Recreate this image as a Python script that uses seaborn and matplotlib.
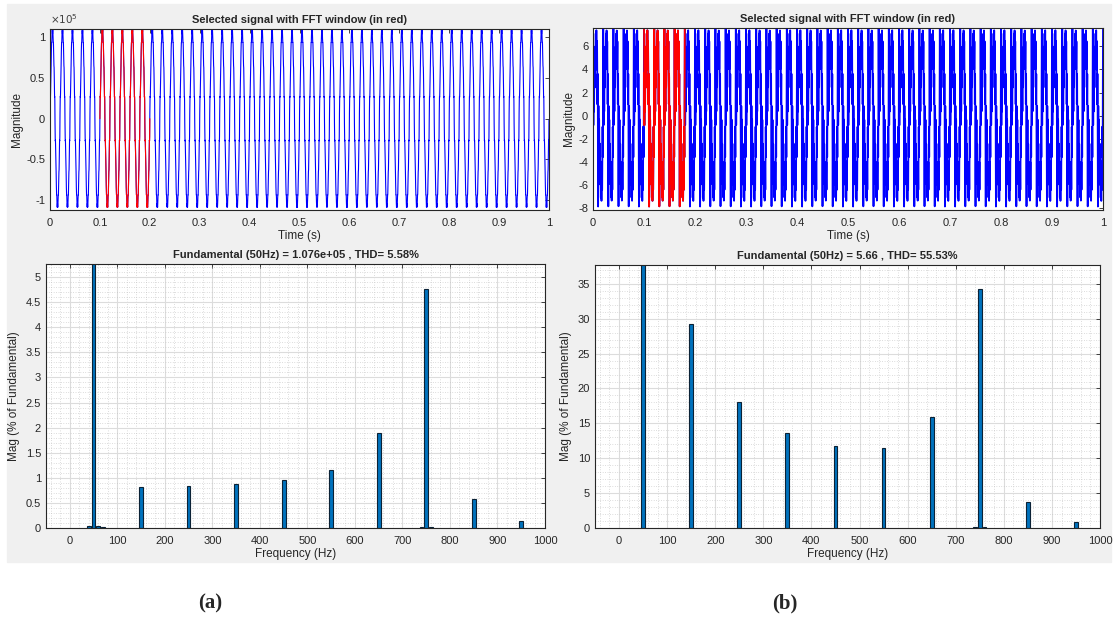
import numpy as np
import pandas as pd
import matplotlib
matplotlib.use("Agg")
import matplotlib.pyplot as plt
import seaborn as sns
from matplotlib.ticker import MultipleLocator

# harmonic spectra (% of fundamental)
freq_a = [40, 50, 60, 70, 150, 250, 350, 450, 550, 650, 740, 750, 760, 850, 950]
mag_a = [0.04, 100, 0.04, 0.02, 0.81, 0.83, 0.88, 0.96, 1.16, 1.90, 0.02, 4.76, 0.02, 0.58, 0.14]
freq_b = [50, 150, 250, 350, 450, 550, 650, 740, 750, 760, 850, 950]
mag_b = [100, 29.3, 18.1, 13.6, 11.7, 11.5, 15.9, 0.15, 34.3, 0.1, 3.7, 0.9]

fund_a = 1.076e5
fund_b = 5.66
thd_a = 5.58
thd_b = 55.53
window_a = (0.1, 0.2)
window_b = (0.1, 0.18)

sns.set_style("white")
plt.rcParams['font.family'] = ['Liberation Sans', 'DejaVu Sans']
plt.rcParams['axes.unicode_minus'] = False

fig = plt.figure(figsize=(11.15, 6.19), dpi=100)
fig.patch.set_facecolor('white')
# grey MATLAB figure background
fig.add_artist(plt.Rectangle((7 / 1115, 1 - 562 / 619), 1104 / 1115, 558 / 619,
                             transform=fig.transFigure, color='#f0f0f0', zorder=-10))


def px(l, t, r, b):
    return [l / 1115, 1 - b / 619, (r - l) / 1115, (b - t) / 619]


def style_axes(ax):
    ax.set_facecolor('white')
    for s in ax.spines.values():
        s.set_color('#262626')
        s.set_linewidth(0.8)
    ax.tick_params(direction='in', top=True, right=True, labelsize=8,
                   colors='#262626', length=3, width=0.6)
    ax.tick_params(axis='x', pad=6)


def signal(freqs, mags, fund, t, harm_cos):
    # rebuild the time signal from the spectrum
    y = np.zeros_like(t)
    for f, m in zip(freqs, mags):
        w = 2 * np.pi * f * t
        y += fund * m / 100 * (np.cos(w) if (harm_cos and f != 50) else np.sin(w))
    return y


t = np.arange(0, 1.0, 2e-5)


def top_panel(rect, freqs, mags, fund, window, ylim, yticks, scale, harm_cos, lw):
    ax = fig.add_axes(rect)
    y = signal(freqs, mags, fund, t, harm_cos) / scale
    df = pd.DataFrame({'t': t, 'y': y})
    inside = (df.t >= window[0]) & (df.t <= window[1])
    sns.lineplot(data=df, x='t', y='y', color='#0000ff', lw=lw, estimator=None, sort=False, ax=ax)
    sns.lineplot(data=df[inside], x='t', y='y', color='#ff0000', lw=lw, estimator=None, sort=False, ax=ax)
    ax.set_xlim(0, 1)
    ax.set_ylim(*ylim)
    ax.set_xticks(np.arange(0, 1.01, 0.1))
    ax.set_xticklabels(['0'] + [f'{v:.1f}' for v in np.arange(0.1, 0.95, 0.1)] + ['1'])
    ax.set_yticks(yticks)
    ax.set_yticklabels([f'{v:g}' for v in yticks])
    if scale != 1:
        ax.text(0, 1.015, r'$\times 10^{5}$', transform=ax.transAxes, fontsize=7.5,
                color='#404040', ha='left', va='bottom')
    ax.set_title('Selected signal with FFT window (in red)', fontsize=8, fontweight='bold',
                 color='#262626', pad=4)
    ax.set_xlabel('Time (s)', fontsize=8.5, color='#262626', labelpad=1)
    ax.set_ylabel('Magnitude', fontsize=8.5, color='#262626', labelpad=2)
    style_axes(ax)
    return ax


def bottom_panel(rect, freqs, mags, fund_txt, thd, ylim, ystep, yminor):
    ax = fig.add_axes(rect)
    sns.barplot(x=freqs, y=mags, native_scale=True, width=0.8, color='#0072bd',
                saturation=1, edgecolor='#0b2236', linewidth=0.8, ax=ax)
    ax.set_xlim(-50, 1000)
    ax.set_ylim(*ylim)
    ax.set_xticks(np.arange(0, 1001, 100))
    ax.set_xticklabels([str(v) for v in range(0, 1001, 100)])
    ax.xaxis.set_minor_locator(MultipleLocator(20))
    ax.yaxis.set_major_locator(MultipleLocator(ystep))
    ax.yaxis.set_minor_locator(MultipleLocator(yminor))
    ax.yaxis.set_major_formatter(plt.FuncFormatter(lambda v, p: f'{v:g}'))
    ax.grid(which='major', color='#dcdcdc', lw=0.8, ls='-')
    ax.grid(which='minor', color='#bdbdbd', lw=0.5, ls=(0, (1, 2.5)))
    ax.set_axisbelow(True)
    ax.tick_params(which='minor', length=0)
    ax.set_title(f'Fundamental (50Hz) = {fund_txt} , THD= {thd:.2f}%', fontsize=8,
                 fontweight='bold', color='#262626', pad=4)
    ax.set_xlabel('Frequency (Hz)', fontsize=8.5, color='#262626', labelpad=1)
    ax.set_ylabel('Mag (% of Fundamental)', fontsize=8.5, color='#262626', labelpad=4)
    style_axes(ax)
    return ax


top_panel(px(50, 29, 549, 210), freq_a, mag_a, fund_a, window_a, (-1.12, 1.1),
          [-1, -0.5, 0, 0.5, 1], 1e5, False, 0.8)
top_panel(px(593, 28, 1103, 210), freq_b, mag_b, fund_b, window_b, (-8.2, 7.6),
          [-8, -6, -4, -2, 0, 2, 4, 6], 1, True, 1.3)
bottom_panel(px(46, 264, 545, 528), freq_a, mag_a, '1.076e+05', thd_a, (0, 5.26), 0.5, 0.1)
bottom_panel(px(595, 265, 1100, 528), freq_b, mag_b, '5.66', thd_b, (0, 37.7), 5, 1)

fig.text(210 / 1115, 1 - 603 / 619, '(a)', fontsize=15, fontweight='bold',
         family=['Liberation Serif', 'DejaVu Serif'], ha='center', va='center')
fig.text(785 / 1115, 1 - 603 / 619, '(b)', fontsize=15, fontweight='bold',
         family=['Liberation Serif', 'DejaVu Serif'], ha='center', va='center')

fig.savefig('out.png', dpi=100)
